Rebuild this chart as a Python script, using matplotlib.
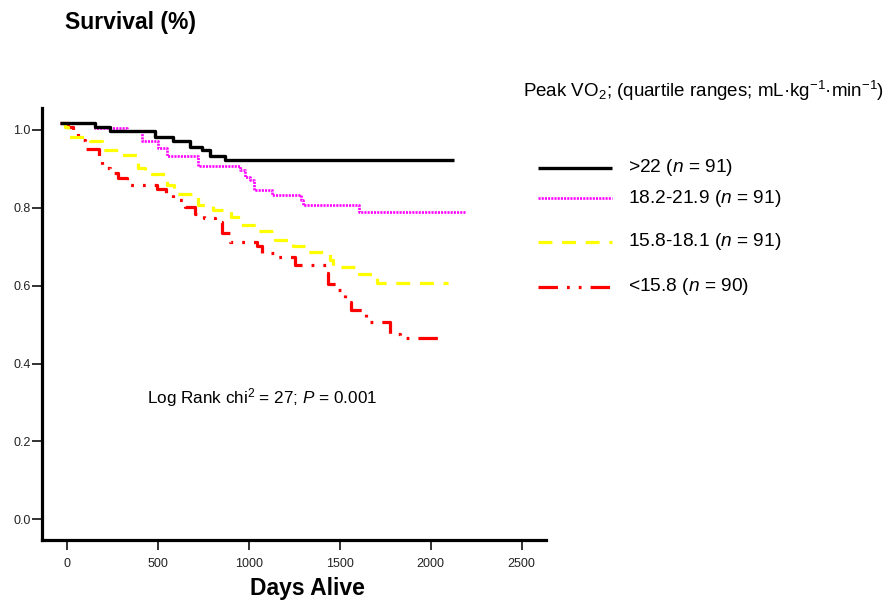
"""Kaplan-Meier survival by peak VO2 quartile."""
import matplotlib
matplotlib.use("Agg")
import matplotlib.pyplot as plt
from matplotlib.lines import Line2D

plt.rcParams['font.family'] = ['Liberation Sans', 'DejaVu Sans']
plt.rcParams['mathtext.fontset'] = 'custom'
plt.rcParams['mathtext.rm'] = 'Liberation Sans'
plt.rcParams['mathtext.it'] = 'Liberation Sans:italic'
plt.rcParams['mathtext.bf'] = 'Liberation Sans:bold'
plt.rcParams['lines.scale_dashes'] = False

# step curves (day of event, survival after event); last entry = end of follow-up
black_days = [-37, 156, 238, 485, 586, 677, 742, 787, 870, 2128]
black_surv = [1.017, 1.007, 0.998, 0.983, 0.973, 0.957, 0.949, 0.933, 0.922, 0.922]

magenta_days = [-37, 156, 330, 412, 503, 549, 723, 952, 980, 1007, 1029, 1128,
                1287, 1298, 1608, 2194]
magenta_surv = [1.017, 1.004, 0.997, 0.972, 0.953, 0.933, 0.908, 0.897, 0.880,
                0.872, 0.846, 0.833, 0.820, 0.808, 0.790, 0.790]

yellow_days = [-37, -9, 7, 128, 194, 293, 392, 430, 551, 590, 721, 804, 903, 952,
               1051, 1145, 1243, 1326, 1447, 1463, 1584, 1705, 2095]
yellow_surv = [1.017, 1.007, 0.983, 0.973, 0.949, 0.936, 0.903, 0.887, 0.859,
               0.835, 0.807, 0.794, 0.777, 0.756, 0.740, 0.717, 0.702, 0.686,
               0.666, 0.649, 0.630, 0.608, 0.608]

red_days = [-37, 7, 35, 62, 101, 177, 194, 238, 282, 331, 496, 546, 585, 650, 705,
            754, 815, 853, 897, 1046, 1073, 1161, 1254, 1425, 1436, 1491, 1529,
            1562, 1645, 1776, 1831, 2051]
red_surv = [1.017, 1.007, 0.992, 0.974, 0.951, 0.928, 0.903, 0.890, 0.877, 0.859,
            0.849, 0.835, 0.820, 0.803, 0.784, 0.773, 0.764, 0.735, 0.713, 0.702,
            0.684, 0.675, 0.653, 0.633, 0.604, 0.589, 0.559, 0.538, 0.508, 0.476,
            0.467, 0.467]

group_labels = [">22 ($n$ = 91)", "18.2-21.9 ($n$ = 91)",
                "15.8-18.1 ($n$ = 91)", "<15.8 ($n$ = 90)"]
x_ticks = [0, 500, 1000, 1500, 2000, 2500]
y_ticks = [0.0, 0.2, 0.4, 0.6, 0.8, 1.0]

styles = {
    'black': dict(color='black', lw=2.4, ls='-'),
    'magenta': dict(color='#ff00ff', lw=1.9, ls=(0, (1.5, 0.8))),
    'yellow': dict(color='#ffff00', lw=2.3, ls=(0, (10, 7))),
    'red': dict(color='#ff0000', lw=2.3, ls=(0, (14, 6.5, 2, 6.5, 2, 6.5))),
}

W, H = 896, 600
fig = plt.figure(figsize=(W / 100, H / 100), dpi=100)
ax = fig.add_axes([41.7 / W, 1 - 540 / H, (546 - 41.7) / W, (540 - 108) / H])

curves = [('red', red_days, red_surv), ('yellow', yellow_days, yellow_surv),
          ('magenta', magenta_days, magenta_surv), ('black', black_days, black_surv)]
for name, d, s in curves:
    ax.step(d, s, where='post', solid_capstyle='butt', dash_capstyle='butt',
            **styles[name])

ax.set_xlim(-137, 2634)
ax.set_ylim(-0.053, 1.0565)
ax.set_xticks(x_ticks)
ax.set_yticks(y_ticks)
ax.set_yticklabels([f"{v:.1f}" for v in y_ticks])
ax.tick_params(axis='both', labelsize=9, width=1.3, length=7, colors='#222222')
ax.tick_params(axis='x', pad=6)
ax.tick_params(axis='y', pad=1)
for side in ('top', 'right'):
    ax.spines[side].set_visible(False)
for side in ('left', 'bottom'):
    ax.spines[side].set_linewidth(2.3)

ax.text(146.7 / W, 1 - 398 / H, "Log Rank chi$^2$ = 27; $P$ = 0.001",
        transform=fig.transFigure, fontsize=12.3, va='center', ha='left')

fig.text(65 / W, 1 - 22 / H, "Survival (%)", fontsize=16.5, fontweight='bold',
         va='center', ha='left')
fig.text(307 / W, 1 - 589 / H, "Days Alive", fontsize=16.5, fontweight='bold',
         va='center', ha='center')

# legend drawn by hand (uneven row spacing in the original)
fig.text(523 / W, 1 - 91 / H,
         "Peak VO$_2$; (quartile ranges; mL·kg$^{-1}$·min$^{-1}$)",
         fontsize=13.5, va='center', ha='left')
rows_y = [168, 198, 242, 287]
for name, label, yy in zip(['black', 'magenta', 'yellow', 'red'], group_labels, rows_y):
    y = 1 - yy / H
    fig.add_artist(Line2D([538 / W, 612 / W], [y, y], transform=fig.transFigure,
                          solid_capstyle='butt', dash_capstyle='butt',
                          **styles[name]))
    fig.text(628 / W, y, label, fontsize=13.8, va='center', ha='left')

fig.savefig("out.png", dpi=100)
